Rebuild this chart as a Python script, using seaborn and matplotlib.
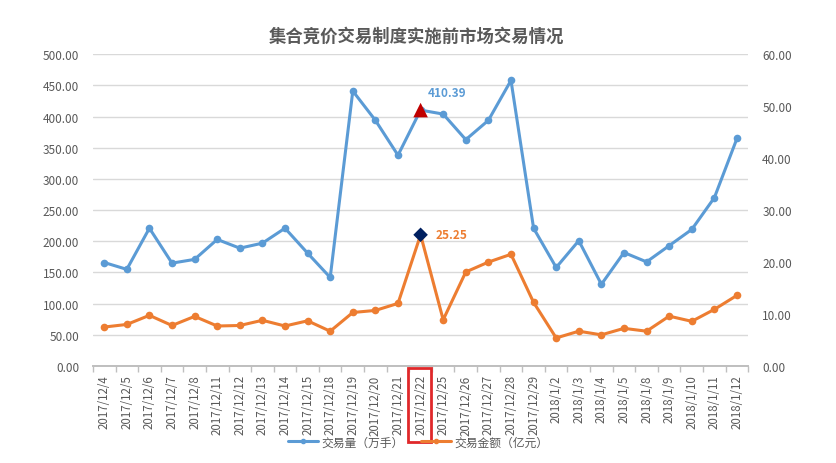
import matplotlib
matplotlib.use("Agg")
import matplotlib.pyplot as plt
import matplotlib.patches as patches
import matplotlib.transforms as mtransforms
from matplotlib.lines import Line2D
import pandas as pd
import seaborn as sns

# Data
dates = ["2017/12/4", "2017/12/5", "2017/12/6", "2017/12/7", "2017/12/8",
         "2017/12/11", "2017/12/12", "2017/12/13", "2017/12/14", "2017/12/15",
         "2017/12/18", "2017/12/19", "2017/12/20", "2017/12/21", "2017/12/22",
         "2017/12/25", "2017/12/26", "2017/12/27", "2017/12/28", "2017/12/29",
         "2018/1/2", "2018/1/3", "2018/1/4", "2018/1/5", "2018/1/8",
         "2018/1/9", "2018/1/10", "2018/1/11", "2018/1/12"]
volume = [166, 155, 221, 165, 171, 203, 189, 197, 221, 181,
          142, 441, 394, 338, 410.39, 404, 363, 394, 458, 221,
          158, 201, 131, 182, 167, 193, 219, 270, 365]
amount = [7.5, 8.0, 9.75, 7.8, 9.55, 7.7, 7.8, 8.8, 7.7, 8.7,
          6.7, 10.3, 10.7, 12.05, 25.25, 8.9, 18.1, 20.0, 21.5, 12.25,
          5.4, 6.7, 6.0, 7.25, 6.7, 9.6, 8.6, 10.9, 13.6]
highlight = "2017/12/22"

vol_label = "交易量（万手）"
amt_label = "交易金额（亿元）"
title = "集合竞价交易制度实施前市场交易情况"

BLUE = "#5B9BD5"
ORANGE = "#ED7D31"
GREY = "#595959"

sns.set_theme(style="white")
plt.rcParams["font.family"] = ["Noto Sans CJK SC", "DejaVu Sans"]

df = pd.DataFrame({"date": dates, "volume": volume, "amount": amount})
hi = df[df["date"] == highlight]

fig = plt.figure(figsize=(8.37, 4.64), dpi=100)
ax = fig.add_axes([0.111, 0.209, 0.783, 0.672])
ax2 = ax.twinx()

sns.lineplot(data=df, x="date", y="volume", ax=ax, color=BLUE, linewidth=2.2,
             marker="o", markersize=5.5, markeredgewidth=0, sort=False)
sns.lineplot(data=df, x="date", y="amount", ax=ax2, color=ORANGE, linewidth=2.2,
             marker="o", markersize=5.5, markeredgewidth=0, sort=False)

# highlighted day markers
sns.scatterplot(data=hi, x="date", y="volume", ax=ax, marker="^", s=110,
                color="#C00000", edgecolor="none", zorder=5)
sns.scatterplot(data=hi, x="date", y="amount", ax=ax2, marker="D", s=55,
                color="#002060", edgecolor="none", zorder=5)

i = dates.index(highlight)
ax.annotate(f"{volume[i]:.2f}", (i, volume[i]), xytext=(19, 8), textcoords="offset points",
            ha="center", va="bottom", color=BLUE, fontsize=8.5, fontweight="bold")
ax2.annotate(f"{amount[i]:.2f}", (i, amount[i]), xytext=(22, 0), textcoords="offset points",
             ha="center", va="center", color=ORANGE, fontsize=8.5, fontweight="bold")

ax.set_ylim(0, 500)
ax2.set_ylim(0, 60)
ax.set_xlim(-0.5, len(dates) - 0.5)
ax.set_yticks(range(0, 501, 50))
ax2.set_yticks(range(0, 61, 10))
ax.yaxis.set_major_formatter(matplotlib.ticker.FormatStrFormatter("%.2f"))
ax2.yaxis.set_major_formatter(matplotlib.ticker.FormatStrFormatter("%.2f"))

ax.grid(axis="y", color="#D9D9D9", linewidth=1)
ax.set_axisbelow(True)
ax.set_xlabel("")
ax.set_ylabel("")
ax2.set_ylabel("")

for a in (ax, ax2):
    for s in ("left", "right", "top"):
        a.spines[s].set_visible(False)
    a.spines["bottom"].set_color("#BFBFBF")
    a.tick_params(axis="y", length=0, labelsize=8.5, labelcolor=GREY, pad=10)

ax.set_xticks(range(len(dates)))
ax.set_xticklabels(dates, rotation=90, fontsize=8.3, color=GREY)
ax.set_xticks([k + 0.5 for k in range(-1, len(dates))], minor=True)
ax.tick_params(axis="x", which="major", length=0, pad=6)
ax.tick_params(axis="x", which="minor", length=4, color="#BFBFBF", width=1, bottom=True)

# red box around highlighted date label
trans = mtransforms.blended_transform_factory(ax.transData, ax.transAxes)
ax.add_patch(patches.Rectangle((i - 0.55, -0.245), 1.0, 0.24, transform=trans,
                               fill=False, edgecolor="#E0282A", linewidth=2, clip_on=False))

fig.text(0.497, 0.92, title, ha="center", va="center", fontsize=12.5,
         fontweight="bold", color=GREY)

handles = [Line2D([], [], color=BLUE, linewidth=2.2, marker="o", markersize=3),
           Line2D([], [], color=ORANGE, linewidth=2.2, marker="o", markersize=3)]
fig.legend(handles, [vol_label, amt_label], loc="center", bbox_to_anchor=(0.5, 0.045),
           ncol=2, frameon=False, fontsize=8.5, labelcolor=GREY, handlelength=2.5,
           columnspacing=1.5, handletextpad=0.3)

fig.savefig("out.png", dpi=100, facecolor="white")
